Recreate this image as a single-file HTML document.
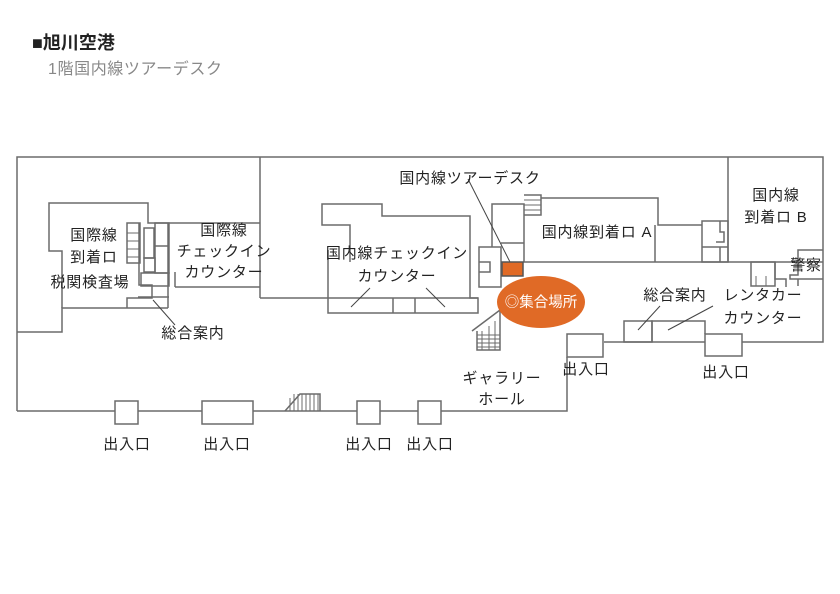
<!DOCTYPE html>
<html><head><meta charset="utf-8"><style>
html,body{margin:0;padding:0;background:#fff;}
svg{display:block;}
text{font-family:"Liberation Sans","Noto Sans CJK JP",sans-serif;fill:#222;}
</style></head><body>
<svg width="840" height="594" viewBox="0 0 840 594" xmlns="http://www.w3.org/2000/svg">
<text x="32" y="49" font-size="18" font-weight="bold" fill="#111">■旭川空港</text>
<text x="48" y="74" font-size="16" letter-spacing="0.6" style="fill:#888">1階国内線ツアーデスク</text>
<g fill="none" stroke="#6b6b6b" stroke-width="1.5">
<polyline points="17,411 17,157 823,157 823,342 742,342"/>
<polyline points="705,342 604,342"/>
<polyline points="567,357 567,411 441,411"/>
<line x1="418" y1="411" x2="380" y2="411"/><line x1="357" y1="411" x2="253" y2="411"/>
<line x1="202" y1="411" x2="138" y2="411"/><line x1="115" y1="411" x2="17" y2="411"/>
<rect x="115" y="401" width="23" height="23"/><rect x="202" y="401" width="51" height="23"/>
<rect x="357" y="401" width="23" height="23"/><rect x="418" y="401" width="23" height="23"/>
<rect x="567" y="334" width="36" height="23"/><rect x="705" y="334" width="37" height="22"/>
<polyline points="285,411 300,394 320,394 320,411"/>
<path d="M290,398V411M294,394V411M298,394V411M302,394V411M306,394V411M310,394V411M314,394V411M318,394V411" stroke-width="1"/>
<polyline points="17,332 62,332 62,308 168,308"/>
<polyline points="62,308 62,251 49,251 49,203 148,203 148,223 260,223"/>
<line x1="260" y1="157" x2="260" y2="298"/>
<polyline points="175,287 175,272"/>
<line x1="175" y1="287" x2="260" y2="287"/>
<rect x="127" y="223" width="13" height="40"/>
<path d="M127,233h13M127,241h13M127,249h13M127,257h13" stroke-width="1"/>
<polyline points="139,223 139,285 152,285 152,298 127,298 127,308"/>
<rect x="144" y="228" width="10" height="30"/>
<rect x="155" y="223" width="14" height="50"/>
<rect x="144" y="258" width="11" height="14"/>
<rect x="141" y="273" width="28" height="13"/>
<line x1="138" y1="297" x2="169" y2="297"/>
<line x1="168" y1="223" x2="168" y2="308"/>
<line x1="155" y1="246" x2="169" y2="246"/>
<line x1="153" y1="300" x2="175" y2="325" stroke="#444" stroke-width="1"/>
<polyline points="260,298 328,298"/>
<polyline points="350,262 350,225 322,225 322,204 382,204 382,216 470,216 470,298 478,298"/>
<rect x="328" y="298" width="150" height="15"/>
<line x1="393" y1="298" x2="393" y2="313"/><line x1="415" y1="298" x2="415" y2="313"/>
<line x1="328" y1="250" x2="328" y2="298"/>
<line x1="351" y1="307" x2="370" y2="288" stroke="#444" stroke-width="1"/>
<line x1="426" y1="288" x2="445" y2="307" stroke="#444" stroke-width="1"/>
<rect x="479" y="247" width="22" height="40"/>
<polyline points="479,262 490,262 490,272 479,272"/>
<polyline points="492,247 492,204 524,204 524,262 823,262"/>
<line x1="501" y1="243" x2="524" y2="243"/>
<line x1="468" y1="179" x2="511" y2="264" stroke="#444" stroke-width="1"/>
<rect x="502" y="262" width="21" height="14" fill="#e06a26" stroke="#555"/>
<polyline points="524,195 541,195 541,215 524,215"/>
<path d="M524,200h17M524,205h17M524,210h17" stroke-width="1"/>
<polyline points="541,198 658,198 658,225 702,225"/>
<line x1="655" y1="225" x2="655" y2="262"/>
<rect x="702" y="221" width="26" height="41"/>
<line x1="702" y1="247" x2="728" y2="247"/>
<polyline points="720,221 720,232 724,232 724,242 716,242"/>
<line x1="720" y1="247" x2="720" y2="262"/>
<line x1="728" y1="157" x2="728" y2="262"/>
<polyline points="798,262 798,250 823,250"/>
<polyline points="798,262 798,275 790,275 790,279 823,279"/>
<line x1="798" y1="279" x2="798" y2="286"/>
<rect x="751" y="262" width="24" height="24"/>
<path d="M756,286v-10M766,286v-10" stroke-width="1"/>
<polyline points="775,262 775,279 786,279 786,287"/>
<rect x="624" y="321" width="28" height="21"/>
<polyline points="652,342 652,321 705,321 705,334"/>
<line x1="638" y1="330" x2="660" y2="306" stroke="#444" stroke-width="1"/>
<line x1="668" y1="330" x2="713" y2="306" stroke="#444" stroke-width="1"/>
<polyline points="472,331 500,310 500,350 477,350 477,331"/>
<path d="M477,335h23M477,339h23M477,343h23M477,347h23M482,331V350M489,326V350M495,321V350" stroke-width="1"/>
</g>
<ellipse cx="541" cy="302" rx="44" ry="26" fill="#e06a26"/>
<text x="541" y="307" font-size="14.5" text-anchor="middle" style="fill:#fff">◎集合場所</text>
<g font-size="15" letter-spacing="0.8" text-anchor="middle">
<text x="94" y="240">国際線</text><text x="94" y="262">到着ロ</text>
<text x="90" y="287">税関検査場</text>
<text x="224" y="235">国際線</text><text x="224" y="256">チェックイン</text><text x="224" y="277">カウンター</text>
<text x="193" y="338">総合案内</text>
<text x="397" y="258">国内線チェックイン</text><text x="397" y="281">カウンター</text>
<text x="470" y="183">国内線ツアーデスク</text>
<text x="597" y="237">国内線到着ロ A</text>
<text x="776" y="200">国内線</text><text x="776" y="222">到着ロ B</text>
<text x="806" y="270">警察</text>
<text x="675" y="300">総合案内</text>
<text x="763" y="300">レンタカー</text><text x="763" y="323">カウンター</text>
<text x="502" y="383">ギャラリー</text><text x="502" y="404">ホール</text>
<text x="586" y="374">出入口</text><text x="726" y="377">出入口</text>
<text x="127" y="449">出入口</text><text x="227" y="449">出入口</text>
<text x="369" y="449">出入口</text><text x="430" y="449">出入口</text>
</g>
</svg>
</body></html>
